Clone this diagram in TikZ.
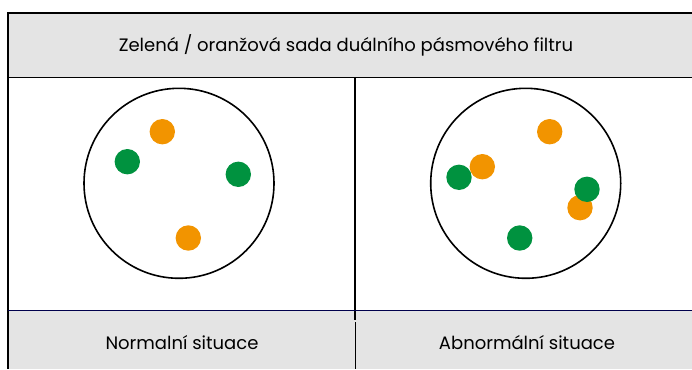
\documentclass[tikz,border=0pt]{standalone}
\usepackage{fontspec}
\setmainfont{Poppins}
\definecolor{cellgray}{RGB}{228,228,228}
\definecolor{dotgreen}{RGB}{0,146,63}
\definecolor{dotorange}{RGB}{242,148,0}
\begin{document}
\begin{tikzpicture}[x=1pt,y=1pt]
\tikzstyle{every node}+=[inner sep=0pt]
\tikzset{label/.style={font=\fontsize{18}{21}\selectfont},
  grn/.style={fill=dotgreen}, org/.style={fill=dotorange}}
\useasboundingbox (0,0) rectangle (692,-369);
\fill [cellgray] (9,-13) rectangle (692,-77);
\fill [cellgray] (9,-310) rectangle (692,-369);
\draw [black, line width=1.4pt] (8,-13) -- (692,-13);
\draw [black, line width=2pt] (8,-12.3) -- (8,-369);
\draw [black, line width=1.4pt] (8,-77.5) -- (692,-77.5);
\draw [black, line width=1.4pt] (355,-77.5) -- (355,-320);
\draw [black, line width=0.8pt] (355,-322) -- (355,-369);
\draw [black!70!blue, line width=0.8pt] (8,-310) -- (692,-310);
\node [label] (title) at (346,-45) {Zelená / oranžová sada duálního pásmového filtru};
\node [label] (normal) at (182,-343) {Normalní situace};
\node [label] (abnormal) at (527,-343) {Abnormální situace};
\draw [black, line width=1.6pt] (179,-183.3) circle (95pt);
\draw [black, line width=1.6pt] (525.7,-183.3) circle (95pt);
\fill [org] (162.3,-131.7) circle (12.7pt);
\fill [grn] (127.3,-161.7) circle (12.7pt);
\fill [grn] (238.3,-174.3) circle (12.7pt);
\fill [org] (188.3,-238) circle (12.7pt);
\fill [org] (549.7,-131.7) circle (12.7pt);
\fill [org] (482.3,-166.7) circle (12.7pt);
\fill [org] (580,-207.7) circle (12.7pt);
\fill [grn] (459,-177.3) circle (12.7pt);
\fill [grn] (587,-189.3) circle (12.7pt);
\fill [grn] (519.7,-238) circle (12.7pt);
\end{tikzpicture}
\end{document}
